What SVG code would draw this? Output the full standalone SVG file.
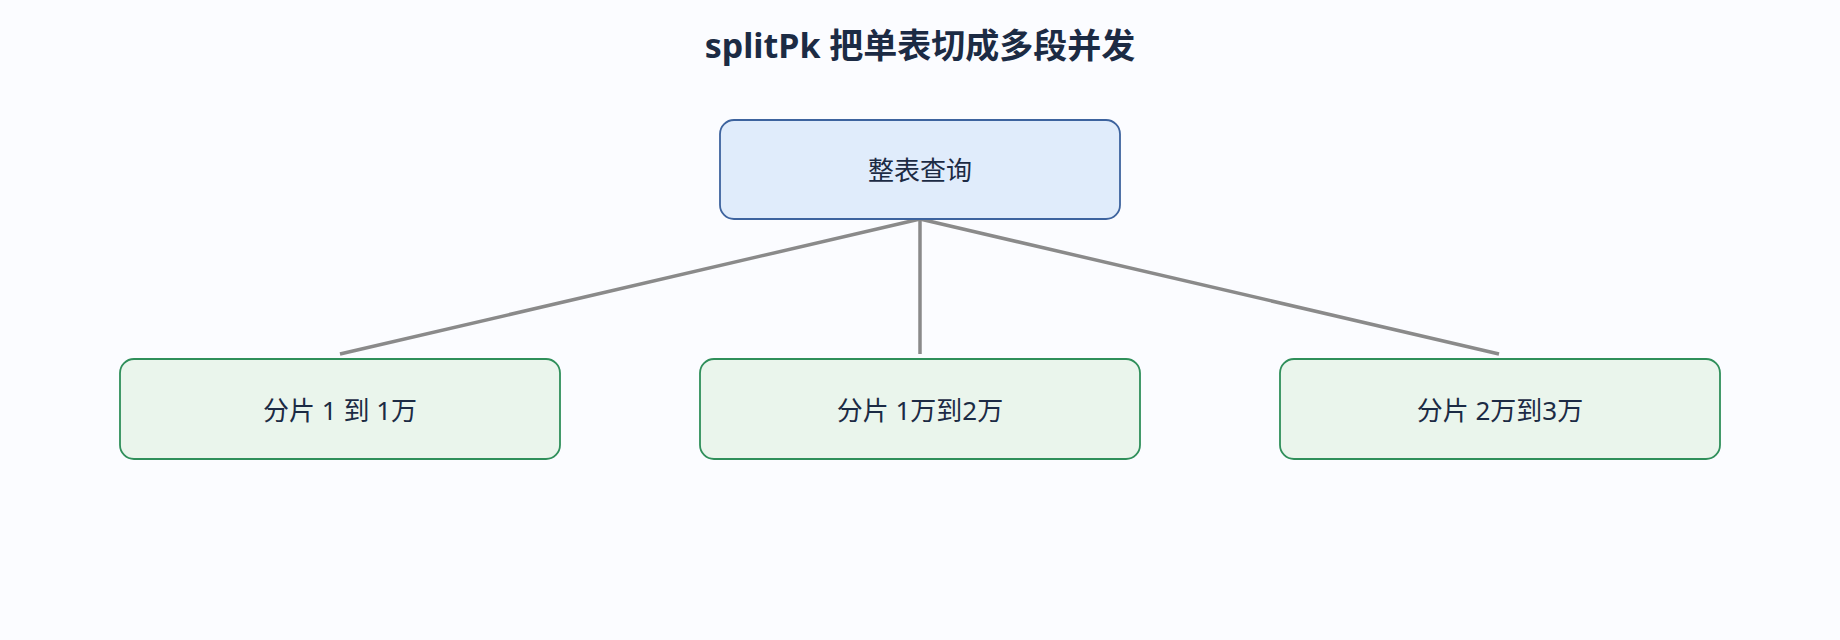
<svg xmlns="http://www.w3.org/2000/svg" width="1840" height="640" viewBox="0 0 1840 640">
<style>
text{font-family:"Noto Sans","Noto Sans CJK SC",sans-serif;fill:#1c2b44;text-anchor:middle;dominant-baseline:central}
.t{font-size:34px;font-weight:bold}
.l{font-size:26px}
.top{fill:#e0ecfb;stroke:#3d639e;stroke-width:1.8}
.leaf{fill:#eaf5ec;stroke:#2f8f5a;stroke-width:1.8}
.c line{stroke:#8a8a8a;stroke-width:3.5}
</style>
<rect width="1840" height="640" fill="#fbfcff"/>
<text class="t" x="920" y="45">splitPk 把单表切成多段并发</text>
<g class="c" id="connectors">
<line x1="920" y1="219" x2="340" y2="354"/>
<line x1="920" y1="219" x2="920" y2="354"/>
<line x1="920" y1="219" x2="1499" y2="354"/>
</g>
<g id="root"><rect class="top" x="720" y="120" width="400" height="99" rx="14"/><text class="l" x="920" y="170">整表查询</text></g>
<g id="s1"><rect class="leaf" x="120" y="359" width="440" height="100" rx="14"/><text class="l" x="340" y="410">分片 1 到 1万</text></g>
<g id="s2"><rect class="leaf" x="700" y="359" width="440" height="100" rx="14"/><text class="l" x="920" y="410">分片 1万到2万</text></g>
<g id="s3"><rect class="leaf" x="1280" y="359" width="440" height="100" rx="14"/><text class="l" x="1500" y="410">分片 2万到3万</text></g>
</svg>
